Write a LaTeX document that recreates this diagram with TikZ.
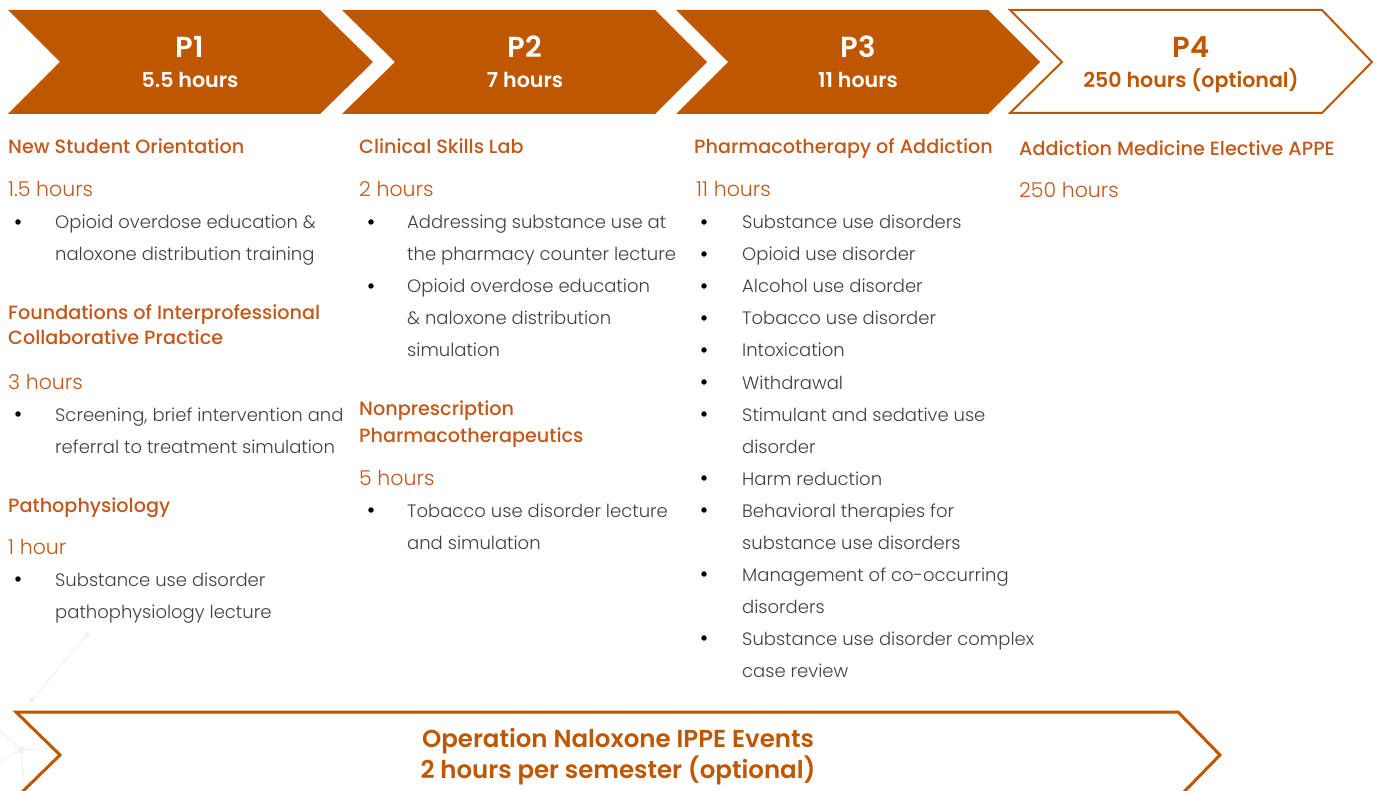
\documentclass[tikz,border=0pt]{standalone}
\usepackage{fontspec}
\setmainfont{Poppins}
\newfontfamily\lightf{Poppins Light}
\newfontfamily\medf{Poppins Medium}
\newfontfamily\boldf{Poppins SemiBold}
\definecolor{burnt}{HTML}{BF5700}
\definecolor{headc}{HTML}{C2581A}
\definecolor{bodygray}{HTML}{404040}
\definecolor{netgray}{HTML}{F0F0F0}
\tikzset{
  chevfill/.style={fill=burnt, draw=none},
  chevline/.style={draw=burnt, line width=2pt, fill=white, line join=miter},
  ptitle/.style={font=\boldf\fontsize{29}{29}\selectfont, anchor=base, inner sep=0},
  phours/.style={font=\boldf\fontsize{20.6}{20.6}\selectfont, anchor=base, inner sep=0},
  head/.style={font=\medf\fontsize{19.2}{19.2}\selectfont, text=headc, anchor=base west, inner sep=0},
  hrs/.style={font=\lightf\fontsize{20.5}{20.5}\selectfont, text=headc, anchor=base west, inner sep=0},
  body/.style={font=\lightf\fontsize{18}{18}\selectfont, text=bodygray, anchor=base west, inner sep=0},
  bdot/.style={circle, fill=black, inner sep=0, minimum size=5.5pt},
  netline/.style={draw=netgray, line width=1pt},
  netdot/.style={circle, fill=netgray, inner sep=0, minimum size=7pt}
}
\begin{document}
\begin{tikzpicture}[x=1pt,y=-1pt]
\useasboundingbox (0,0) rectangle (1376,791);
% faint background network
\node[netdot] (n1) at (21,750) {};
\node[netdot] (n2) at (211,740) {};
\node[netdot, minimum size=5pt] (n3) at (87,635) {};
\node[netdot, minimum size=5pt] (n4) at (32,700) {};
\node[netdot, minimum size=5pt] (n5) at (113,778) {};
\coordinate (e1) at (0,762);
\coordinate (e2) at (25,791);
\coordinate (e3) at (140,791);
\coordinate (e4) at (300,791);
\coordinate (e5) at (0,730);
\draw[netline] (n1) -- (n2);
\draw[netline] (n1) -- (e1);
\draw[netline] (n1) -- (e2);
\draw[netline] (n1) -- (e5);
\draw[netline] (n2) -- (e3);
\draw[netline] (n2) -- (e4);
\draw[netline] (n3) -- (n4);

% top chevrons
\path[chevfill] (8,10) -- (320,10) -- (373,62) -- (320,114) -- (8,114) -- (60,62) -- cycle;
\path[chevfill] (342,10) -- (655,10) -- (707,62) -- (655,114) -- (342,114) -- (395,62) -- cycle;
\path[chevfill] (676,10) -- (988,10) -- (1040,62) -- (988,114) -- (676,114) -- (728,62) -- cycle;
\path[chevline] (1010,10) -- (1322,10) -- (1372,62) -- (1322,113) -- (1010,113) -- (1062,62) -- cycle;
\node[ptitle, text=white] (p1) at (190,58) {P1};
\node[phours, text=white] (p1h) at (190,88) {5.5 hours};
\node[ptitle, text=white] (p2) at (525,58) {P2};
\node[phours, text=white] (p2h) at (525,88) {7 hours};
\node[ptitle, text=white] (p3) at (858,58) {P3};
\node[phours, text=white] (p3h) at (858,88) {11 hours};
\node[ptitle, text=burnt] (p4) at (1191,58) {P4};
\node[phours, text=burnt] (p4h) at (1191,88) {250 hours (optional)};

% column 1
\node[head] (c1h1) at (8,154) {New Student Orientation};
\node[hrs] (c1t1) at (8,197) {1.5 hours};
\node[bdot] (c1d1) at (18,222) {};
\node[body] (c1l1) at (55,229) {Opioid overdose education \&};
\node[body] (c1l2) at (55,261) {naloxone distribution training};
\node[head] (c1h2) at (8,320) {Foundations of Interprofessional};
\node[head] (c1h2b) at (8,345) {Collaborative Practice};
\node[hrs] (c1t2) at (8,389) {3 hours};
\node[bdot] (c1d2) at (18,414) {};
\node[body] (c1l3) at (55,421) {Screening, brief intervention and};
\node[body] (c1l4) at (55,453) {referral to treatment simulation};
\node[head] (c1h3) at (8,512) {Pathophysiology};
\node[hrs] (c1t3) at (8,554) {1 hour};
\node[bdot] (c1d3) at (18,579) {};
\node[body] (c1l5) at (55,586) {Substance use disorder};
\node[body] (c1l6) at (55,618) {pathophysiology lecture};

% column 2
\node[head] (c2h1) at (359,154) {Clinical Skills Lab};
\node[hrs] (c2t1) at (359,197) {2 hours};
\node[bdot] (c2d1) at (371,222) {};
\node[body] (c2l1) at (407,229) {Addressing substance use at};
\node[body] (c2l2) at (407,261) {the pharmacy counter lecture};
\node[bdot] (c2d2) at (371,286) {};
\node[body] (c2l3) at (407,293) {Opioid overdose education};
\node[body] (c2l4) at (407,325) {\& naloxone distribution};
\node[body] (c2l5) at (407,357) {simulation};
\node[head] (c2h2) at (359,416) {Nonprescription};
\node[head] (c2h2b) at (359,442) {Pharmacotherapeutics};
\node[hrs] (c2t2) at (359,485) {5 hours};
\node[bdot] (c2d3) at (371,510) {};
\node[body] (c2l6) at (407,517) {Tobacco use disorder lecture};
\node[body] (c2l7) at (407,549) {and simulation};

% column 3
\node[head] (c3h1) at (694,154) {Pharmacotherapy of Addiction};
\node[hrs] (c3t1) at (696,197) {11 hours};
\foreach \y/\t [count=\i] in {229/Substance use disorders, 261/Opioid use disorder,
  293/Alcohol use disorder, 325/Tobacco use disorder, 357/Intoxication,
  389/Withdrawal, 421/Stimulant and sedative use, 485/Harm reduction,
  517/Behavioral therapies for, 581/Management of co-occurring,
  645/Substance use disorder complex}{
  \node[bdot] (c3d\i) at (704,\y-7) {};
  \node[body] (c3l\i) at (742,\y) {\t};
}
\foreach \y/\t [count=\i] in {453/disorder, 549/substance use disorders,
  613/disorders, 677/case review}{
  \node[body] (c3m\i) at (742,\y) {\t};
}

% column 4
\node[head] (c4h1) at (1019,156) {Addiction Medicine Elective APPE};
\node[hrs] (c4t1) at (1019,198) {250 hours};

% bottom chevron
\path[chevline, line width=3pt] (16,712) -- (1178,712) -- (1220,755) -- (1178,798) -- (16,798) -- (60,755) -- cycle;
\node[ptitle, font=\boldf\fontsize{24.5}{24.5}\selectfont, text=burnt] (b1) at (618,747) {Operation Naloxone IPPE Events};
\node[ptitle, font=\boldf\fontsize{24.5}{24.5}\selectfont, text=burnt] (b2) at (618,778) {2 hours per semester (optional)};
\end{tikzpicture}
\end{document}
